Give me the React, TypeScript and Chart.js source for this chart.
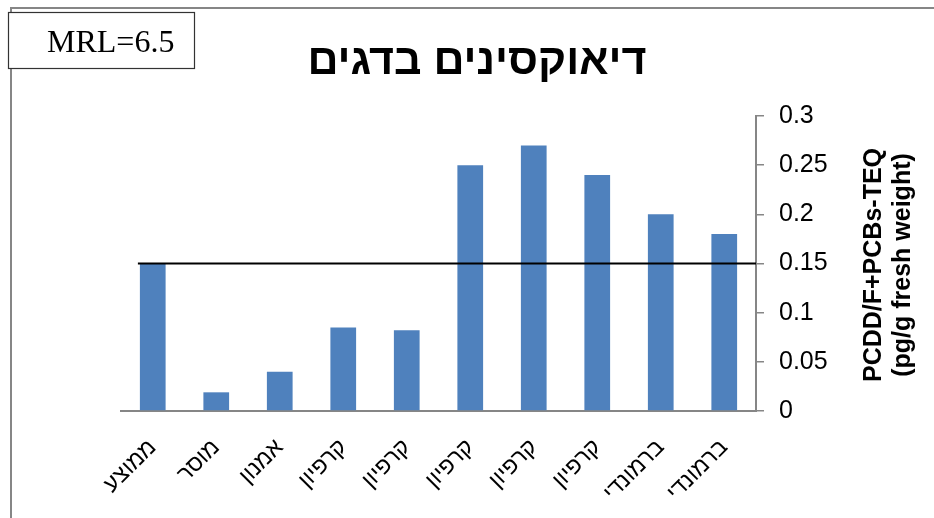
import React, { useEffect, useRef } from "react";
import { Chart, registerables } from "chart.js";

Chart.register(...registerables);

// Fish species sampled (x-axis categories)
const categories = [
  "ממוצע",
  "מוסר",
  "אמנון",
  "קרפיון",
  "קרפיון",
  "קרפיון",
  "קרפיון",
  "קרפיון",
  "ברמונדי",
  "ברמונדי",
];

// Dioxin + dl-PCB TEQ per sample (pg/g fresh weight)
const teqValues = [0.15, 0.019, 0.04, 0.085, 0.082, 0.25, 0.27, 0.24, 0.2, 0.18];

// Reference level drawn as a horizontal line
const referenceLevel = 0.15;

// Value-axis range and tick step
const yMin = 0;
const yMax = 0.3;
const yStep = 0.05;

const chartTitle = "דיאוקסינים בדגים";
const mrlLabel = "MRL=6.5";
const yTitleLines = ["PCDD/F+PCBs-TEQ", "(pg/g fresh weight)"];

const SANS = '"Liberation Sans", Arial, sans-serif';
const SERIF = '"Liberation Serif", "Times New Roman", serif';
const AXIS_GRAY = "#868686";
const BAR_BLUE = "#4F81BD";

const W = 934;
const H = 518;

const decorPlugin = {
  id: "decor",
  beforeDraw(chart: any) {
    const ctx = chart.ctx;
    ctx.save();
    ctx.fillStyle = "#ffffff";
    ctx.fillRect(0, 0, chart.width, chart.height);
    // outer frame
    ctx.strokeStyle = AXIS_GRAY;
    ctx.lineWidth = 2;
    ctx.beginPath();
    ctx.moveTo(11, chart.height + 2);
    ctx.lineTo(11, 8);
    ctx.lineTo(chart.width + 2, 8);
    ctx.stroke();
    ctx.restore();
  },
  afterDatasetsDraw(chart: any) {
    const ctx = chart.ctx;
    const y = chart.scales.y;
    const area = chart.chartArea;
    const meta = chart.getDatasetMeta(0);
    const first = meta.data[0];
    const startX = first.x - first.width / 2 - 2;
    const py = y.getPixelForValue(referenceLevel);
    ctx.save();
    ctx.strokeStyle = "#000000";
    ctx.lineWidth = 2;
    ctx.beginPath();
    ctx.moveTo(startX, py);
    ctx.lineTo(area.right, py);
    ctx.stroke();
    ctx.restore();
  },
  afterDraw(chart: any) {
    const ctx = chart.ctx;
    ctx.save();
    // title
    ctx.fillStyle = "#000000";
    ctx.font = `bold 43px ${SANS}`;
    ctx.textAlign = "center";
    ctx.textBaseline = "alphabetic";
    ctx.fillText(chartTitle, 477, 74);

    // MRL box
    ctx.fillStyle = "#ffffff";
    ctx.fillRect(8, 12, 187, 57);
    ctx.strokeStyle = "#333333";
    ctx.lineWidth = 1.2;
    ctx.strokeRect(8.5, 12.5, 186, 56);
    ctx.fillStyle = "#000000";
    ctx.font = `32px ${SERIF}`;
    ctx.textAlign = "left";
    ctx.fillText(mrlLabel, 47, 52);

    // value-axis title, two lines reading upward
    ctx.font = `bold 25px ${SANS}`;
    ctx.textAlign = "center";
    ctx.textBaseline = "middle";
    const cy = 265;
    const xs = [874, 903];
    yTitleLines.forEach((line, i) => {
      ctx.save();
      ctx.translate(xs[i], cy);
      ctx.rotate(-Math.PI / 2);
      ctx.fillText(line, 0, 0);
      ctx.restore();
    });
    ctx.restore();
  },
};

export default function App() {
  const canvasRef = useRef<HTMLCanvasElement | null>(null);

  useEffect(() => {
    if (!canvasRef.current) return;
    const chart = new Chart(canvasRef.current, {
      type: "bar",
      data: {
        labels: categories,
        datasets: [
          {
            data: teqValues,
            backgroundColor: BAR_BLUE,
            borderWidth: 0,
            categoryPercentage: 1,
            barPercentage: 0.405,
          },
        ],
      },
      options: {
        responsive: false,
        animation: false,
        layout: { padding: { left: 121, top: 116, right: 0, bottom: 0 } },
        plugins: {
          legend: { display: false },
          title: { display: false },
          tooltip: { enabled: false },
        },
        scales: {
          x: {
            grid: { display: false },
            border: { display: true, color: AXIS_GRAY, width: 2 },
            ticks: {
              autoSkip: false,
              minRotation: 45,
              maxRotation: 45,
              padding: 15,
              color: "#000000",
              font: { family: SANS, size: 23 },
            },
            afterFit(scale: any) {
              scale.height = 107;
            },
          },
          y: {
            position: "right",
            min: yMin,
            max: yMax,
            grid: {
              display: true,
              drawOnChartArea: false,
              drawTicks: true,
              tickLength: 8,
              color: AXIS_GRAY,
              lineWidth: 1.5,
            },
            border: { display: true, color: AXIS_GRAY, width: 2 },
            ticks: {
              stepSize: yStep,
              padding: 15,
              color: "#000000",
              font: { family: SANS, size: 25 },
              callback: (v: any) => String(Math.round(Number(v) * 100) / 100),
            },
            afterFit(scale: any) {
              scale.width = 178;
            },
          },
        },
      },
      plugins: [decorPlugin],
    });
    return () => chart.destroy();
  }, []);

  return (
    <div style={{ position: "fixed", left: 0, top: 0, width: W, height: H, background: "#fff" }}>
      <canvas ref={canvasRef} width={W} height={H} style={{ display: "block", width: W, height: H }} />
    </div>
  );
}
